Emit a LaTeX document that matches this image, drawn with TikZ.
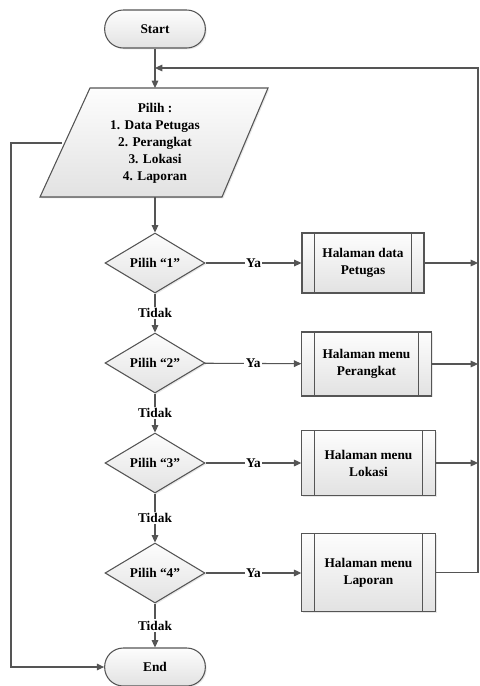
\documentclass[tikz,border=0pt]{standalone}
\usepackage{fontspec}
\setmainfont{Liberation Serif}
\usetikzlibrary{shapes.geometric,arrows.meta,positioning,shadows}
\definecolor{lineg}{HTML}{555555}
\definecolor{filltop}{HTML}{FDFDFD}
\definecolor{fillbot}{HTML}{E2E2E2}
\definecolor{shadowg}{HTML}{D0D0D0}

\tikzset{
  base/.style={draw=lineg,line width=0.8pt,top color=filltop,bottom color=fillbot,
    drop shadow={shadow xshift=1pt,shadow yshift=-1pt,fill=shadowg},
    font=\fontsize{10}{12.75}\selectfont\bfseries,align=center},
  terminal/.style={base,rounded corners=14pt,minimum width=75.5pt,minimum height=28.5pt},
  decision/.style={base,diamond,aspect=1.67,inner sep=1pt,minimum width=75pt,minimum height=45pt},
  process/.style={base,rectangle,minimum height=45pt,
    path picture={
      \draw[lineg,line width=0.8pt] ([xshift=9.5pt]path picture bounding box.north west)
        -- ([xshift=9.5pt]path picture bounding box.south west);
      \draw[lineg,line width=0.8pt] ([xshift=-9.5pt]path picture bounding box.north east)
        -- ([xshift=-9.5pt]path picture bounding box.south east);}},
  arr/.style={draw=lineg,line width=0.8pt,-{Triangle[length=5.5pt,width=5pt]}},
  ln/.style={draw=lineg,line width=0.8pt},
  lbl/.style={fill=white,inner sep=1pt,font=\fontsize{10}{11}\selectfont\bfseries}
}

\begin{document}
\begin{tikzpicture}[x=0.75pt,y=-0.75pt]

% Page frame (pixel units, y down)
\useasboundingbox (0,0) rectangle (479,686);

% ===== START AND MENU =====
\node[terminal] (start) at (155,29) {Start};

% Menu parallelogram
\coordinate (pa) at (40,197);
\coordinate (pb) at (222,197);
\coordinate (pc) at (268,88);
\coordinate (pd) at (90,88);
\filldraw[lineg,line width=0.8pt,top color=filltop,bottom color=fillbot,
  drop shadow={shadow xshift=1pt,shadow yshift=-1pt,fill=shadowg}]
  (pa) -- (pb) -- (pc) -- (pd) -- cycle;
\node[font=\fontsize{10}{12.75}\selectfont\bfseries,align=center] (pilih) at (155,143)
  {Pilih :\\1. Data Petugas\\2. Perangkat\\3. Lokasi\\4. Laporan};
\coordinate (ptop) at (155,88);
\coordinate (pbot) at (155,197);
\coordinate (pleft) at (62,143);

% ===== DECISIONS =====
\node[decision] (d1) at (155,263) {Pilih \textquotedblleft1\textquotedblright};
\node[decision] (d2) at (155,363) {Pilih \textquotedblleft2\textquotedblright};
\node[decision] (d3) at (155,463) {Pilih \textquotedblleft3\textquotedblright};
\node[decision] (d4) at (155,573) {Pilih \textquotedblleft4\textquotedblright};

\node[terminal] (end) at (155,667) {End};

% ===== PROCESS BOXES =====
\node[process,minimum width=91.5pt,minimum height=45pt] (h1) at (363,263) {Halaman data\\Petugas};
\node[process,minimum width=97pt,minimum height=48pt] (h2) at (366.5,364) {Halaman menu\\Perangkat};
\node[process,minimum width=100pt,minimum height=49pt] (h3) at (368.5,463) {Halaman menu\\Lokasi};
\node[process,minimum width=100pt,minimum height=59pt] (h4) at (368.5,572.5) {Halaman menu\\Laporan};

% ===== CONNECTORS =====
\coordinate (join) at (155,68);
\coordinate (rtop) at (478,68);
\coordinate (rbot) at (478,572.5);
\coordinate (lcorner) at (11,143);

\draw[ln] (start) -- (join);
\draw[arr] (join) -- (ptop);
\draw[arr] (pbot) -- (d1);

% Ya branches
\draw[arr] (d1) -- node[lbl] {Ya} (h1);
\draw[arr] (d2) -- node[lbl] {Ya} (h2);
\draw[arr] (d3) -- node[lbl] {Ya} (h3);
\draw[arr] (d4.east) -- node[lbl] {Ya} (h4.west |- d4.east);

% Tidak branches
\draw[arr] (d1) -- node[lbl] {Tidak} (d2);
\draw[arr] (d2) -- node[lbl] {Tidak} (d3);
\draw[arr] (d3) -- node[lbl] {Tidak} (d4);
\draw[arr] (d4) -- node[lbl] {Tidak} (end);

% Back to menu
\draw[arr] (h1) -- (h1 -| rtop);
\draw[arr] (h2) -- (h2 -| rtop);
\draw[arr] (h3) -- (h3 -| rtop);
\draw[arr] (h4.east) -- (rbot) -- (rtop) -- (join);

% Exit line from menu to End
\draw[arr] (pleft) -- (lcorner) |- (end);

\end{tikzpicture}
\end{document}
